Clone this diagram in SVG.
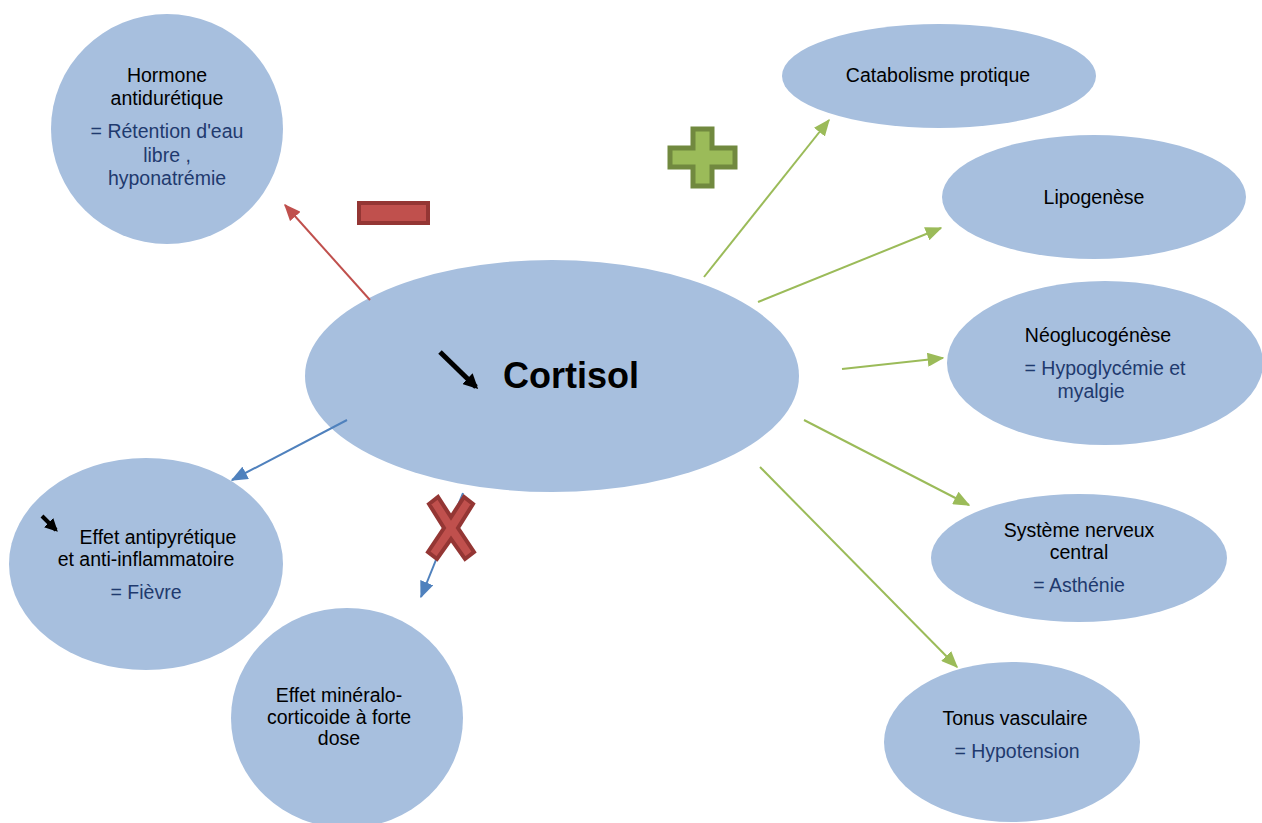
<svg xmlns="http://www.w3.org/2000/svg" width="1262" height="823" viewBox="0 0 1262 823">
<style>
.n{fill:#a7bfde}
text{font-family:"Liberation Sans",Arial,sans-serif;font-size:19.5px;text-anchor:middle;fill:#000}
.b{fill:#1f3a6e}
.g{stroke:#9bbb59;stroke-width:2;fill:none;marker-end:url(#ag)}
.bl{stroke:#4f81bd;stroke-width:2;fill:none;marker-end:url(#ab)}
.r{stroke:#c0504d;stroke-width:2;fill:none;marker-end:url(#ar)}
</style>
<defs>
<marker id="ag" viewBox="0 0 12 10" refX="11" refY="5" markerWidth="17" markerHeight="14" markerUnits="userSpaceOnUse" orient="auto"><path d="M0,0L12,5L0,10z" fill="#9bbb59"/></marker>
<marker id="ab" viewBox="0 0 12 10" refX="11" refY="5" markerWidth="17" markerHeight="14" markerUnits="userSpaceOnUse" orient="auto"><path d="M0,0L12,5L0,10z" fill="#4f81bd"/></marker>
<marker id="ar" viewBox="0 0 12 10" refX="11" refY="5" markerWidth="17" markerHeight="14" markerUnits="userSpaceOnUse" orient="auto"><path d="M0,0L12,5L0,10z" fill="#c0504d"/></marker>
<marker id="ak" viewBox="0 0 10 10" refX="8" refY="5" markerWidth="15" markerHeight="15" markerUnits="userSpaceOnUse" orient="auto"><path d="M0,0L10,5L0,10z" fill="#000"/></marker>
<marker id="ak2" viewBox="0 0 10 10" refX="8" refY="5" markerWidth="13" markerHeight="13" markerUnits="userSpaceOnUse" orient="auto"><path d="M0,0L10,5L0,10z" fill="#000"/></marker>
</defs>
<rect width="1262" height="823" fill="#fff"/>
<g id="cortisol"><ellipse class="n" cx="552" cy="376" rx="247" ry="116"/>
<text x="571" y="388" style="font-size:36px;font-weight:bold">Cortisol</text>
<path d="M440,352L476,387" stroke="#000" stroke-width="5" marker-end="url(#ak)"/></g>
<g id="hormone"><ellipse class="n" cx="167" cy="129" rx="116" ry="115"/>
<text x="167" y="82">Hormone</text><text x="167" y="105">antidurétique</text>
<text class="b" x="167" y="138">= Rétention d'eau</text><text class="b" x="167" y="162">libre ,</text><text class="b" x="167" y="185">hyponatrémie</text></g>
<g id="catabolisme"><ellipse class="n" cx="939" cy="76" rx="157" ry="52"/><text x="938" y="82">Catabolisme protique</text></g>
<g id="lipogenese"><ellipse class="n" cx="1094" cy="197" rx="152" ry="62"/><text x="1094" y="204">Lipogenèse</text></g>
<g id="neoglucogenese"><ellipse class="n" cx="1105" cy="363" rx="158" ry="82"/>
<text x="1098" y="342">Néoglucogénèse</text><text class="b" x="1105" y="375">= Hypoglycémie et</text><text class="b" x="1091" y="398">myalgie</text></g>
<g id="snc"><ellipse class="n" cx="1079" cy="558" rx="148" ry="64"/>
<text x="1079" y="537">Système nerveux</text><text x="1079" y="559">central</text><text class="b" x="1079" y="592">= Asthénie</text></g>
<g id="tonus"><ellipse class="n" cx="1012" cy="742" rx="128" ry="80"/>
<text x="1015" y="725">Tonus vasculaire</text><text class="b" x="1017" y="758">= Hypotension</text></g>
<g id="antipyretique"><ellipse class="n" cx="146" cy="564" rx="137" ry="106"/>
<text x="158" y="544">Effet antipyrétique</text><text x="146" y="566">et anti-inflammatoire</text><text class="b" x="146" y="599">= Fièvre</text>
<path d="M42,516L56,530" stroke="#000" stroke-width="4" marker-end="url(#ak2)"/></g>
<g id="mineralo"><ellipse class="n" cx="347" cy="718" rx="116" ry="110"/>
<text x="339" y="702">Effet minéralo-</text><text x="339" y="724">corticoide à forte</text><text x="339" y="745">dose</text></g>
<g id="connectors">
<line class="g" x1="704" y1="277" x2="829" y2="120"/>
<line class="g" x1="758" y1="302" x2="941" y2="228"/>
<line class="g" x1="842" y1="369" x2="943" y2="358"/>
<line class="g" x1="804" y1="420" x2="969" y2="505"/>
<line class="g" x1="760" y1="467" x2="957" y2="667"/>
<line class="bl" x1="347" y1="420" x2="232" y2="480"/>
<line class="bl" x1="463" y1="493" x2="421" y2="597"/>
<line class="r" x1="370" y1="300" x2="285" y2="205"/>
</g>
<g id="signs">
<path d="M693,129H712V148H735V167H712V186H693V167H670V148H693Z" fill="#9bbb59" stroke="#71893f" stroke-width="5"/>
<rect x="359" y="203" width="69" height="20" fill="#c0504d" stroke="#943634" stroke-width="4"/>
<path d="M429,504L438,497L451,517L464,497L473,504L458,528L474,552L465,559L451,539L437,559L428,552L444,528Z" fill="#c0504d" stroke="#943634" stroke-width="4" stroke-linejoin="miter"/>
</g>
</svg>
